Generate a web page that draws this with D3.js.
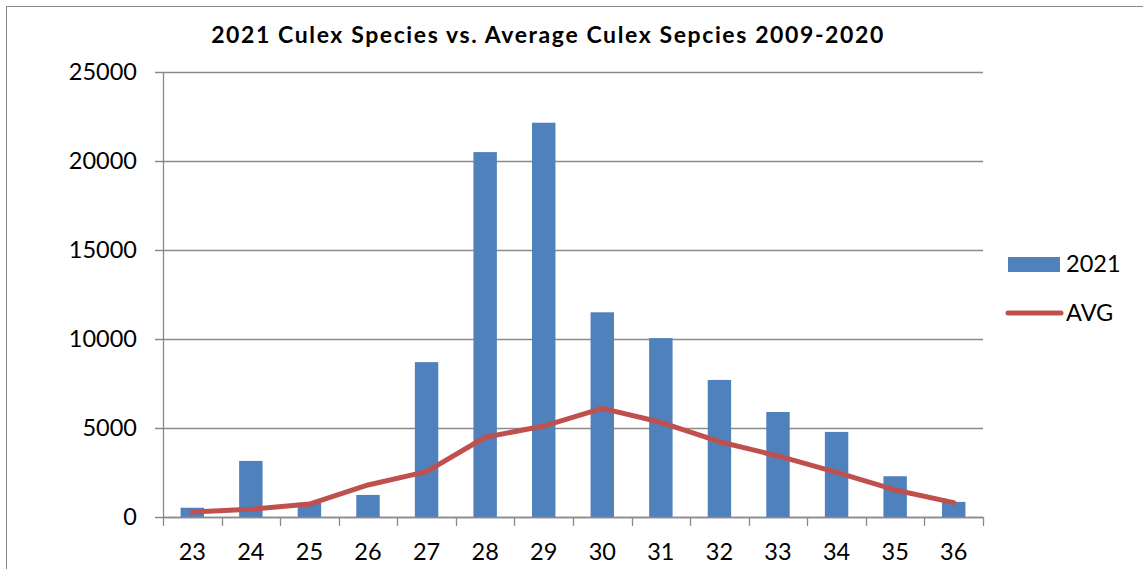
<!DOCTYPE html>
<html><head><meta charset="utf-8">
<script src="https://cdn.jsdelivr.net/npm/d3@7"></script>
<style>html,body{margin:0;padding:0;background:#fff;}svg{display:block;}</style>
</head><body>
<script>
const categories = ["23","24","25","26","27","28","29","30","31","32","33","34","35","36"];
const values2021 = [520, 3150, 800, 1240, 8700, 20500, 22150, 11500, 10050, 7700, 5900, 4780, 2290, 850];
const valuesAvg = [280, 430, 730, 1800, 2550, 4480, 5110, 6100, 5320, 4230, 3430, 2510, 1520, 805];
const yTicks = [0, 5000, 10000, 15000, 20000, 25000];
const seriesNames = ["2021", "AVG"];
const title = "2021 Culex Species vs. Average Culex Sepcies 2009-2020";

const W = 1143, H = 569;
const m = {left: 163, right: 983, top: 72, bottom: 517};
const font = "Lato, 'Open Sans', sans-serif";
const gridColor = "#8a8a8a";
const barColor = "#4F81BD", lineColor = "#C0504D";

const svg = d3.select("body").append("svg").attr("width", W).attr("height", H);
svg.append("rect").attr("x",0).attr("y",0).attr("width",W).attr("height",H).attr("fill","#fff");
// outer chart border
svg.append("rect").attr("x",6.5).attr("y",6.5).attr("width",W+20).attr("height",H+20)
  .attr("fill","none").attr("stroke",gridColor).attr("stroke-width",1);

const x = d3.scaleBand().domain(categories).range([m.left, m.right]).paddingInner(0).paddingOuter(0);
const y = d3.scaleLinear().domain([0, 25000]).range([m.bottom, m.top]);

// gridlines
svg.append("g").selectAll("line").data(yTicks).join("line")
  .attr("x1", m.left - 8).attr("x2", m.right)
  .attr("y1", d => Math.round(y(d)) + 0.5).attr("y2", d => Math.round(y(d)) + 0.5)
  .attr("stroke", gridColor).attr("stroke-width", 1.3);

// y axis line
svg.append("line").attr("x1", m.left+0.5).attr("x2", m.left+0.5).attr("y1", m.top).attr("y2", m.bottom)
  .attr("stroke", gridColor).attr("stroke-width", 1.3);

// y labels
svg.append("g").selectAll("text").data(yTicks).join("text")
  .attr("x", 137).attr("y", d => y(d)).attr("dy", "0.36em")
  .attr("text-anchor", "end").attr("font-family", font).attr("font-size", 23.5).attr("fill", "#000")
  .text(d => d);

// x ticks at band boundaries
const bounds = categories.map(c => x(c)).concat([m.right]);
svg.append("g").selectAll("line").data(bounds).join("line")
  .attr("x1", d => Math.round(d)+0.5).attr("x2", d => Math.round(d)+0.5)
  .attr("y1", m.bottom).attr("y2", m.bottom + 9)
  .attr("stroke", gridColor).attr("stroke-width", 1.3);

// bars
const bw = x.bandwidth() / 2.5;
svg.append("g").selectAll("rect").data(categories).join("rect")
  .attr("x", (c) => x(c) + x.bandwidth()/2 - bw/2)
  .attr("width", bw)
  .attr("y", (c,i) => y(values2021[i]))
  .attr("height", (c,i) => y(0) - y(values2021[i]))
  .attr("fill", barColor);

// redraw baseline over bars
svg.append("line").attr("x1", m.left).attr("x2", m.right)
  .attr("y1", Math.round(y(0))+0.5).attr("y2", Math.round(y(0))+0.5)
  .attr("stroke", gridColor).attr("stroke-width", 1.3);

// line
const line = d3.line().x((d,i) => x(categories[i]) + x.bandwidth()/2).y(d => y(d));
svg.append("path").datum(valuesAvg).attr("d", line)
  .attr("fill", "none").attr("stroke", lineColor).attr("stroke-width", 5)
  .attr("stroke-linejoin", "round").attr("stroke-linecap", "round");

// x labels
svg.append("g").selectAll("text").data(categories).join("text")
  .attr("x", c => x(c) + x.bandwidth()/2).attr("y", 552).attr("dy", "0.36em")
  .attr("text-anchor", "middle").attr("font-family", font).attr("font-size", 23.5).attr("fill", "#000")
  .text(c => c);

// title
svg.append("text").attr("x", 548).attr("y", 34.7).attr("dy", "0.36em")
  .attr("text-anchor", "middle").attr("font-family", font).attr("font-weight", "bold")
  .attr("font-size", 23).attr("letter-spacing", 1.6).attr("fill", "#000").text(title);

// legend
svg.append("rect").attr("x", 1008).attr("y", 257).attr("width", 52).attr("height", 15).attr("fill", barColor);
svg.append("text").attr("x", 1066).attr("y", 264).attr("dy", "0.36em")
  .attr("font-family", font).attr("font-size", 23.5).attr("fill", "#000").text(seriesNames[0]);
svg.append("line").attr("x1", 1008).attr("x2", 1061).attr("y1", 313).attr("y2", 313)
  .attr("stroke", lineColor).attr("stroke-width", 5).attr("stroke-linecap", "round");
svg.append("text").attr("x", 1066).attr("y", 313).attr("dy", "0.36em")
  .attr("font-family", font).attr("font-size", 23.5).attr("fill", "#000").text(seriesNames[1]);
</script>
</body></html>
